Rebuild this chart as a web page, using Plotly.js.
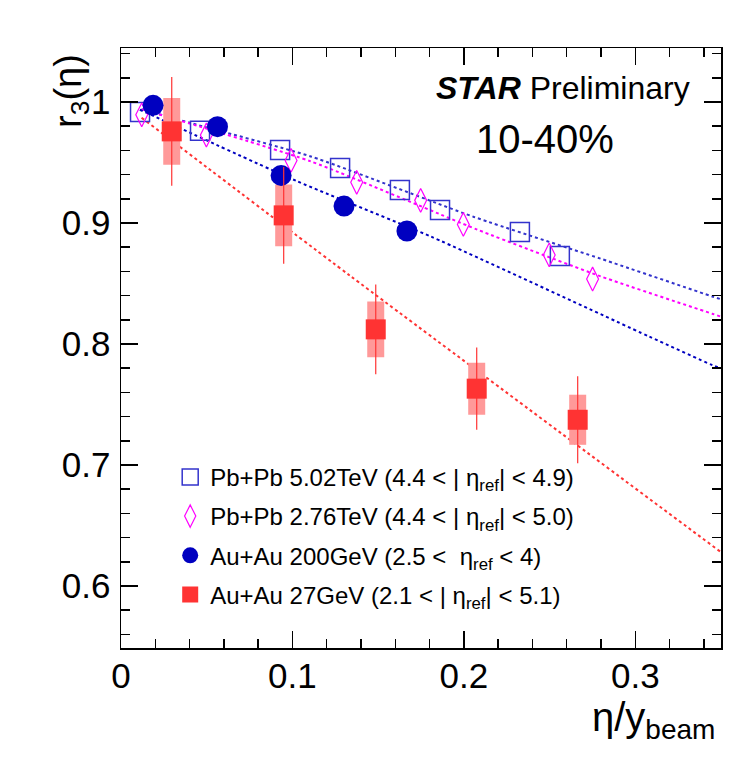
<!DOCTYPE html>
<html>
<head>
<meta charset="utf-8">
<script src="https://cdn.plot.ly/plotly-3.0.1.min.js"></script>
<style>html,body{margin:0;padding:0;background:#fff;}#chart{width:732px;height:768px;}</style>
</head>
<body>
<div id="chart"></div>
<script>
// ---- data ----
var pb502X = [0.0111, 0.0461, 0.0928, 0.1278, 0.1627, 0.1861, 0.2327, 0.2560];
var pb502Y = [0.9917, 0.9763, 0.9603, 0.9455, 0.9273, 0.9107, 0.8926, 0.8727];

var pb276X = [0.0121, 0.0498, 0.0992, 0.1375, 0.1748, 0.1997, 0.2498, 0.2751];
var pb276Y = [0.9894, 0.9727, 0.9517, 0.9336, 0.9187, 0.8988, 0.8736, 0.8537];

var au200X = [0.0187, 0.0563, 0.0934, 0.1301, 0.1668];
var au200Y = [0.9972, 0.9796, 0.9393, 0.9140, 0.8934];

var au27X = [0.0296, 0.0949, 0.1486, 0.2075, 0.2664];
var au27Y = [0.9757, 0.9063, 0.8121, 0.7631, 0.7374];
var au27Stat = [0.045, 0.040, 0.037, 0.034, 0.036];
var au27Sys = [0.0275, 0.0255, 0.023, 0.0215, 0.0207];

// fit curves (dotted)
var fitPb502X = [0.012, 0.0407, 0.1107, 0.2059, 0.2798, 0.3449, 0.35];
var fitPb502Y = [0.994, 0.9826, 0.955, 0.905, 0.8705, 0.8393, 0.837];
var fitPb276X = [0.012, 0.1107, 0.2079, 0.2798, 0.3449, 0.35];
var fitPb276Y = [0.994, 0.9509, 0.8945, 0.8559, 0.825, 0.8226];
var fitAu200X = [0.011, 0.1029, 0.1806, 0.3079, 0.3449, 0.35];
var fitAu200Y = [0.9936, 0.9344, 0.8889, 0.8063, 0.7826, 0.780];
var fitAu27X = [0.012, 0.134, 0.35];
var fitAu27Y = [0.987, 0.856, 0.628];

var xTickVals = [0, 0.1, 0.2, 0.3];
var xTickText = ['0', '0.1', '0.2', '0.3'];
var yTickVals = [0.6, 0.7, 0.8, 0.9, 1.0];
var yTickText = ['0.6', '0.7', '0.8', '0.9', '1'];

var names = [
  'Pb+Pb 5.02TeV (4.4 < | \u03b7<sub>ref</sub>| < 4.9)',
  'Pb+Pb 2.76TeV (4.4 < | \u03b7<sub>ref</sub>| < 5.0)',
  'Au+Au 200GeV (2.5 < \u00a0\u03b7<sub>ref</sub> < 4)',
  'Au+Au 27GeV (2.1 < | \u03b7<sub>ref</sub>| < 5.1)'
];

var cPb502 = '#3333cc', cPb276 = '#ff00ff', cAu200 = '#0000c0', cAu27 = '#ff3333', cSys = '#ff9999';
var FONT = 'Liberation Sans, Arial, Helvetica, sans-serif';

function fit(x, y, c) {
  return {x: x, y: y, mode: 'lines', type: 'scatter', showlegend: false, hoverinfo: 'skip',
          line: {color: c, width: 2, dash: '3px,3px', shape: 'spline', smoothing: 0.6}};
}

var traces = [
  fit(fitPb502X, fitPb502Y, cPb502),
  fit(fitPb276X, fitPb276Y, cPb276),
  fit(fitAu200X, fitAu200Y, cAu200),
  fit(fitAu27X, fitAu27Y, cAu27),
  {x: au27X, y: au27Y, mode: 'markers', type: 'scatter', showlegend: false, hoverinfo: 'skip',
   marker: {size: 1, opacity: 0},
   error_y: {type: 'data', array: au27Sys, symmetric: true, thickness: 17, width: 0, color: cSys}},
  {x: pb502X, y: pb502Y, mode: 'markers', type: 'scatter', name: names[0], legendgroup: 'a',
   marker: {symbol: 'square-open', size: 19, color: cPb502, line: {width: 1.5, color: cPb502}}},
  {x: pb276X, y: pb276Y, mode: 'markers', type: 'scatter', name: names[1], legendgroup: 'b',
   marker: {symbol: 'diamond-tall-open', size: 17, color: cPb276, line: {width: 1.2, color: cPb276}}},
  {x: au200X, y: au200Y, mode: 'markers', type: 'scatter', name: names[2], legendgroup: 'c',
   marker: {symbol: 'circle', size: 21, color: cAu200}},
  {x: au27X, y: au27Y, mode: 'markers', type: 'scatter', name: names[3], legendgroup: 'd',
   marker: {symbol: 'square', size: 20, color: cAu27},
   error_y: {type: 'data', array: au27Stat, symmetric: true, thickness: 1.2, width: 0, color: cAu27}}
];

var axisCommon = {
  showline: true, linecolor: '#000', linewidth: 1.5, mirror: 'ticks',
  ticks: 'inside', ticklen: 17, tickwidth: 1.5, tickcolor: '#000',
  showgrid: false, zeroline: false,
  tickfont: {family: FONT, size: 35, color: '#000'},
  minor: {ticks: 'inside', ticklen: 9, tickwidth: 1.5, tickcolor: '#000', dtick: 0.02, showgrid: false}
};

var layout = {
  width: 732, height: 768,
  margin: {l: 120.7, r: 11.3, t: 48.3, b: 119.7},
  paper_bgcolor: '#fff', plot_bgcolor: '#fff',
  font: {family: FONT, color: '#000'},
  xaxis: Object.assign({}, axisCommon, {range: [0, 0.35], tickmode: 'array', tickvals: xTickVals, ticktext: xTickText,
                                         ticklabelstandoff: -4}),
  yaxis: Object.assign({}, axisCommon, {range: [0.5488, 1.0446], tickmode: 'array', tickvals: yTickVals, ticktext: yTickText,
                                         ticklabelstandoff: 2}),
  showlegend: true,
  legend: {x: 0.082, y: 0.322, xanchor: 'left', yanchor: 'top', bgcolor: 'rgba(0,0,0,0)',
           font: {family: FONT, size: 24, color: '#000'}, traceorder: 'grouped', tracegroupgap: 5,
           itemsizing: 'trace'},
  annotations: [
    {xref: 'paper', yref: 'paper', x: 0.952, y: 0.934, xanchor: 'right', yanchor: 'middle', showarrow: false,
     text: '<b><i>STAR</i></b> Preliminary', font: {family: FONT, size: 32, color: '#000'}},
    {xref: 'paper', yref: 'paper', x: 0.7072, y: 0.849, xanchor: 'center', yanchor: 'middle', showarrow: false,
     text: '10-40%', font: {family: FONT, size: 40, color: '#000'}},
    {xref: 'paper', yref: 'paper', x: 0.994, y: -0.12, xanchor: 'right', yanchor: 'middle', showarrow: false,
     text: '\u03b7/y<sub>beam</sub>', font: {family: FONT, size: 40, color: '#000'}},
    {xref: 'paper', yref: 'paper', x: -0.0845, y: 0.9288, xanchor: 'center', yanchor: 'middle', showarrow: false,
     textangle: -90, text: 'r<sub>3</sub>(\u03b7)', font: {family: FONT, size: 38, color: '#000'}}
  ]
};

Plotly.newPlot('chart', traces, layout, {staticPlot: true, displayModeBar: false});
</script>
</body>
</html>
